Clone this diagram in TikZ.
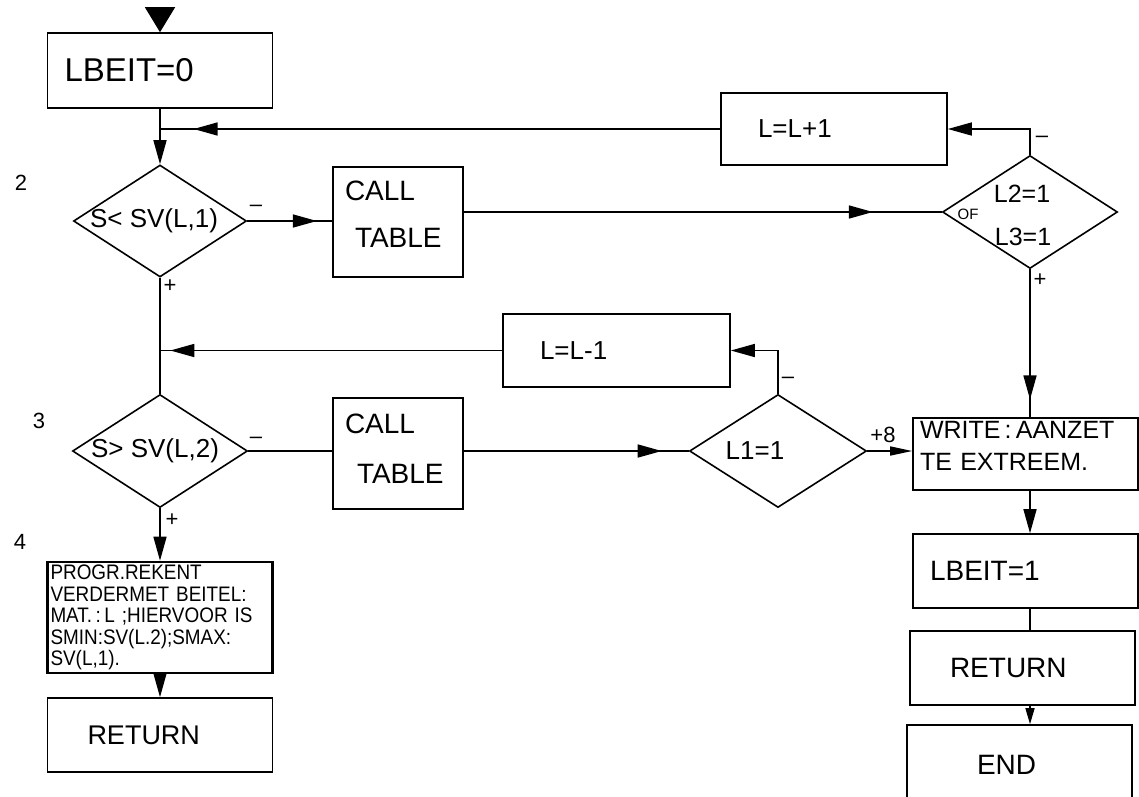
\documentclass[tikz,border=0pt]{standalone}
\usepackage{fontspec}
\setmainfont{Liberation Sans}
\newfontfamily\narrowfont[FakeStretch=0.9]{Liberation Sans}
\usetikzlibrary{shapes.geometric,arrows.meta,decorations.markings}
\newcommand{\fsz}[2]{\fontsize{#1}{#2}\selectfont}
\begin{document}
\begin{tikzpicture}[x=1pt,y=-1pt,
  box/.style={draw, line width=1.6pt, rectangle, inner ysep=0pt, align=left},
  dia/.style={draw, line width=1.6pt, diamond, inner sep=0pt, align=center},
  conn/.style={line width=1.5pt},
  arr/.style={conn, -{Triangle[length=24pt,width=13pt]}},
  midarr/.style={conn, postaction={decorate},
    decoration={markings, mark=at position #1 with {\arrow{Triangle[length=24pt,width=13pt]}}}},
  lbl/.style={inner sep=0pt, font=\fsz{22}{22}},
  steplbl/.style={inner sep=0pt, font=\fsz{22}{22}}]
\useasboundingbox (0,0) rectangle (1139,796);
\clip (0,0) rectangle (1139,796);

% step numbers
\node[steplbl] (n2) at (21,183) {2};
\node[steplbl] (n3) at (39,421) {3};
\node[steplbl] (n4) at (20,542) {4};

% left column
\node[box, text width=191pt, inner xsep=17pt, minimum height=75pt, font=\fsz{33}{40}] (b0) at (160,70.5) {LBEIT=0};
\node[dia, minimum width=173pt, minimum height=112pt, font=\fsz{26}{30}] (d1) at (160,221) {\makebox[0pt]{S< SV(L,1)\hspace{12pt}}};
\node[box, text width=106pt, inner xsep=12pt, minimum height=110pt, font=\fsz{28}{47}] (ct1) at (398,222) {CALL\\\hspace*{10pt}TABLE\rule[-16pt]{0pt}{16pt}};
\node[box, text width=152pt, inner xsep=37pt, minimum height=72pt, font=\fsz{26}{30}] (lp) at (834,129) {L=L+1};
\node[dia, minimum width=175pt, minimum height=113pt] (d2) at (1030,212) {};
\node[inner sep=0pt, font=\fsz{25}{30}] (l2) at (1022,194) {L2=1};
\node[inner sep=0pt, font=\fsz{25}{30}] (l3) at (1023,237) {L3=1};
\node[inner sep=0pt, font=\fsz{15}{15}] (of) at (968,214) {OF};

\node[box, text width=153pt, inner xsep=37pt, minimum height=73pt, font=\fsz{26}{30}] (lm) at (616.5,350.5) {L=L-1};
\node[dia, minimum width=175pt, minimum height=113pt, font=\fsz{26}{30}] (d3) at (160,451) {\makebox[0pt]{S> SV(L,2)\hspace{10pt}}};
\node[box, text width=106pt, inner xsep=12pt, minimum height=111pt, font=\fsz{28}{50}] (ct2) at (398,453.5) {CALL\\\hspace*{12pt}TABLE\rule[-10pt]{0pt}{10pt}};
\node[dia, minimum width=177pt, minimum height=113pt, font=\fsz{26}{30}] (d4) at (778,451) {\makebox[0pt]{L1=1\hspace{46pt}}};

\node[box, line width=2.6pt, text width=219pt, inner xsep=3pt, minimum height=111pt, font=\narrowfont\fsz{21}{21.5}] (pr) at (160,617.5)
  {PROGR.REKENT\\VERDERMET BEITEL:\\MAT.\,:\,L ;HIERVOOR IS\\SMIN:SV(L.2);SMAX:\\SV(L,1).};
\node[box, text width=145pt, inner xsep=40pt, minimum height=74pt, font=\fsz{27}{30}] (rl) at (160,735) {RETURN};

% right column
\node[box, text width=211pt, inner xsep=7pt, minimum height=72pt, font=\fsz{25}{32}] (wr) at (1025.5,454) {WRITE\,:\,AANZET\\TE EXTREEM.\rule[-16pt]{0pt}{16pt}};
\node[box, text width=191pt, inner xsep=17pt, minimum height=74pt, font=\fsz{28}{30}] (lb1) at (1025.5,571) {LBEIT=1};
\node[box, text width=145pt, inner xsep=40pt, minimum height=74pt, font=\fsz{28}{30}] (rr) at (1022.5,668) {RETURN};
\node[box, text width=85pt, inner xsep=70pt, minimum height=80pt, font=\fsz{28}{30}] (en) at (1019.5,765) {END};

% sign labels
\node[lbl] (m1) at (256,208) {--};
\node[lbl] (p1) at (170,286) {+};
\node[lbl] (m2) at (1042,139) {--};
\node[lbl] (p2) at (1040,280) {+};
\node[lbl] (m3) at (256,440) {--};
\node[lbl] (p3) at (172,520) {+};
\node[lbl] (m4) at (788,380) {--};
\node[lbl] (p4) at (883,435) {+8};

% connectors
\coordinate (start) at (160,8);
\draw[conn, -{Triangle[length=25pt,width=30pt]}] (start) -- (b0.north);
\draw[arr] (b0.south) -- (d1.north);
\draw[midarr=0.94] (lp.west) -- (lp.west -| d1.north);
\draw[arr] (d2.north) |- (lp.east);
\draw[midarr=0.82] (d1.east) -- (d1.east -| ct1.west);
\draw[midarr=0.856] (ct1.east |- d2.west) -- (d2.west);
\draw[midarr=0.88] (d2.south) -- (d2.south |- wr.north);
\draw[conn] (d1.south) -- (d3.north);
\draw[midarr=0.97] (lm.west) -- (lm.west -| d1.south);
\draw[arr] (d4.north) |- (lm.east);
\draw[conn] (d3.east) -- (d3.east -| ct2.west);
\draw[midarr=0.88] (ct2.east |- d4.west) -- (d4.west);
\draw[conn, -{Triangle[length=22pt,width=9pt]}] (d4.east) -- (d4.east -| wr.west);
\draw[arr] (d3.south) -- (pr.north);
\draw[arr] (pr.south) -- (rl.north);
\draw[arr] (d2.south |- wr.south) -- (d2.south |- lb1.north);
\draw[conn] (d2.south |- lb1.south) -- (d2.south |- rr.north);
\draw[conn, -{Triangle[length=16pt,width=9pt]}] (d2.south |- rr.south) -- (d2.south |- en.north);
\end{tikzpicture}
\end{document}
